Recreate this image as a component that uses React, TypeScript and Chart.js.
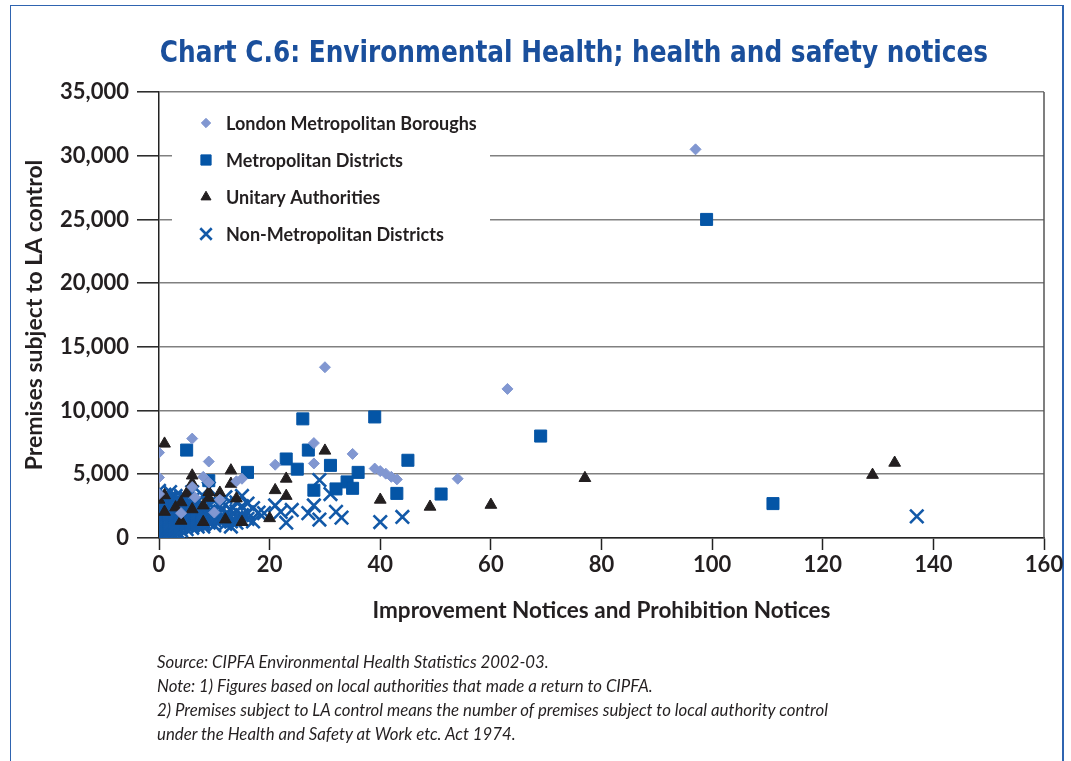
import React, { useEffect, useRef } from 'react';
import { Chart, registerables } from 'chart.js';
import { drawPoint } from 'chart.js/helpers';

Chart.register(...registerables);

// ---------- data ----------
const seriesNames = [
  'London Metropolitan Boroughs',
  'Metropolitan Districts',
  'Unitary Authorities',
  'Non-Metropolitan Districts',
];

const xTicks = [0, 20, 40, 60, 80, 100, 120, 140, 160];
const yTicks = [0, 5000, 10000, 15000, 20000, 25000, 30000, 35000];

const londonPoints: [number, number][] = [
  [97, 30500], [63, 11700], [30, 13400], [54, 4650], [35, 6600], [28, 7450],
  [21, 5750], [28, 5850], [39, 5450], [40, 5250], [41, 5050], [42, 4800], [43, 4600],
  [6, 7800], [0, 6700], [9, 6000], [0, 4750], [8, 4800], [9, 4350], [14, 4450],
  [15, 4650], [0, 3450], [6, 4000], [6.5, 3200], [11, 3000], [10, 2000], [4, 1950],
];

const metroPoints: [number, number][] = [
  [99, 25000], [69, 8000], [111, 2700], [51, 3450], [26, 9350], [39, 9500],
  [45, 6100], [27, 6900], [23, 6200], [25, 5400], [31, 5700], [36, 5150],
  [28, 3750], [32, 3850], [34, 4400], [35, 3900], [43, 3500], [5, 6900],
  [16, 5150], [9, 4500],
];

const unitaryPoints: [number, number][] = [
  [1, 7400], [30, 6850], [6, 4900], [13, 5300], [13, 4250], [6, 4300], [0, 3000],
  [1, 3350], [5, 3500], [9, 3600], [11, 3550], [14, 3100], [1, 2050], [3, 2400],
  [4, 2800], [6, 2250], [8, 2550], [9, 3150], [4, 1350], [8, 1250], [12, 1450],
  [15, 1250], [20, 1550], [23, 4650], [21, 3750], [23, 3300], [40, 3000], [49, 2450],
  [60, 2600], [77, 4700], [129, 4950], [133, 5900],
];

const nonMetroPoints: [number, number][] = [
  [137, 1700], [29, 4550], [31, 3450], [17, 2350], [21, 2550], [22, 2050], [24, 2200],
  [23, 1200], [19, 1950], [27, 1950], [28, 2550], [29, 1450], [32, 2050], [33, 1600],
  [40, 1250], [44, 1650], [18, 2000],
  [0, 200], [0, 350], [0, 500], [0, 650], [0, 900], [0, 1050], [0, 1200], [0, 1350],
  [0, 1500], [0, 1650], [0, 1800], [0, 1950], [0, 2100], [0, 2250], [0, 2400], [0, 2550],
  [0, 2700], [0, 2850], [0, 3000], [0, 3150], [0, 3300], [0, 3700],
  [1, 100], [1, 400], [1, 600], [1, 800], [1, 1000], [1, 1150], [1, 1300], [1, 1450],
  [1, 1600], [1, 1750], [1, 1900], [1, 2050], [1, 2200], [1, 2400], [1, 2600], [1, 2750],
  [1, 2900], [1, 3100], [1, 3400],
  [2, 300], [2, 550], [2, 800], [2, 950], [2, 1100], [2, 1250], [2, 1400], [2, 1550],
  [2, 1700], [2, 1850], [2, 2000], [2, 2150], [2, 2300], [2, 2550], [2, 2800], [2, 3000],
  [2, 3200], [2, 3600],
  [3, 100], [3, 400], [3, 700], [3, 850], [3, 1000], [3, 1250], [3, 1400], [3, 1550],
  [3, 1700], [3, 1850], [3, 2000], [3, 2150], [3, 2300], [3, 2500], [3, 2700], [3, 3000], [3, 3300],
  [4, 200], [4, 600], [4, 900], [4, 1050], [4, 1200], [4, 1350], [4, 1500], [4, 1650],
  [4, 1800], [4, 1950], [4, 2100], [4, 2350], [4, 2600], [4, 2900], [4, 3300],
  [5, 700], [5, 1000], [5, 1150], [5, 1300], [5, 1450], [5, 1600], [5, 1750], [5, 1900],
  [5, 2100], [5, 2300], [5, 2500], [5, 2700], [5, 3100],
  [6, 800], [6, 1000], [6, 1150], [6, 1300], [6, 1450], [6, 1600], [6, 1750], [6, 1900],
  [6, 2050], [6, 2300], [6, 2500], [6, 3000], [6, 3600],
  [7, 900], [7, 1100], [7, 1250], [7, 1400], [7, 1550], [7, 1700], [7, 1850], [7, 2000],
  [7, 2200], [7, 2400], [7, 2900],
  [8, 900], [8, 1100], [8, 1300], [8, 1450], [8, 1600], [8, 1750], [8, 1900], [8, 2050],
  [8, 2200], [8, 2600], [8, 3300],
  [9, 1200], [9, 1500], [9, 1800], [9, 2100], [9, 2700], [9, 3900],
  [10, 1000], [10, 1400], [10, 1700], [10, 2300], [10, 2900],
  [11, 1300], [11, 1600], [11, 2000], [11, 2500],
  [12, 1100], [12, 1500], [12, 1900], [12, 2600], [12, 3200],
  [13, 900], [13, 1300], [13, 1700], [13, 2200],
  [14, 1200], [14, 1600], [14, 2100], [14, 2800],
  [15, 1400], [15, 1800], [15, 2500], [15, 3300],
  [16, 1500], [16, 2000], [16, 2700],
  [17, 1300],
];

// ---------- styles ----------
const LONDON_COLOR = '#8197d1';
const METRO_COLOR = '#0455a6';
const UNITARY_COLOR = '#231f20';
const NONMETRO_COLOR = '#1259a8';
const TEXT_COLOR = '#231f20';
const FONT = 'Lato, "Open Sans", sans-serif';

const markerStyles = [
  { pointStyle: 'rectRot', radius: 5.5, color: LONDON_COLOR, borderWidth: 1, fill: true },
  { pointStyle: 'rect', radius: 8.5, color: METRO_COLOR, borderWidth: 1, fill: true },
  { pointStyle: 'triangle', radius: 6.8, color: UNITARY_COLOR, borderWidth: 1, fill: true },
  { pointStyle: 'crossRot', radius: 9.5, color: NONMETRO_COLOR, borderWidth: 2.6, fill: false },
];

const toXY = (pts: [number, number][]) => pts.map(([x, y]) => ({ x, y }));

const legendPlugin = {
  id: 'boxLegend',
  afterDatasetsDraw(chart: any) {
    const { ctx } = chart;
    ctx.save();
    ctx.fillStyle = '#ffffff';
    ctx.fillRect(172, 97, 318, 156);
    seriesNames.forEach((name, i) => {
      const y = 123 + i * 37;
      const m = markerStyles[i];
      ctx.fillStyle = m.color;
      ctx.strokeStyle = m.color;
      ctx.lineWidth = m.borderWidth;
      drawPoint(ctx, { pointStyle: m.pointStyle as any, radius: m.radius * 0.85, rotation: 0, borderWidth: m.borderWidth }, 206, y);
      ctx.fillStyle = TEXT_COLOR;
      ctx.font = `bold 18px ${FONT}`;
      ctx.textBaseline = 'middle';
      ctx.textAlign = 'left';
      ctx.fillText(name, 226, y + 1);
    });
    ctx.restore();
  },
};

const framePlugin = {
  id: 'plotFrame',
  afterDraw(chart: any) {
    const { ctx, chartArea } = chart;
    ctx.save();
    ctx.strokeStyle = '#555555';
    ctx.lineWidth = 1.5;
    ctx.beginPath();
    ctx.moveTo(chartArea.right, chartArea.top);
    ctx.lineTo(chartArea.right, chartArea.bottom);
    ctx.stroke();
    ctx.restore();
  },
};

export default function App() {
  const canvasRef = useRef<HTMLCanvasElement | null>(null);

  useEffect(() => {
    const canvas = canvasRef.current;
    if (!canvas) return;
    const datasets = [londonPoints, metroPoints, unitaryPoints, nonMetroPoints].map((pts, i) => {
      const m = markerStyles[i];
      return {
        label: seriesNames[i],
        data: toXY(pts),
        pointStyle: m.pointStyle,
        pointRadius: m.radius,
        pointHoverRadius: m.radius,
        backgroundColor: m.fill ? m.color : 'transparent',
        borderColor: m.color,
        pointBorderWidth: m.borderWidth,
        borderWidth: m.borderWidth,
        showLine: false,
      };
    });

    const chart = new Chart(canvas, {
      type: 'scatter',
      data: { datasets: datasets as any },
      plugins: [legendPlugin, framePlugin],
      options: {
        animation: false,
        responsive: false,
        devicePixelRatio: 1,
        layout: { padding: { left: 21.2, top: 92, right: 27, bottom: 136.5 } },
        plugins: {
          legend: { display: false },
          tooltip: { enabled: false },
          title: { display: false },
        },
        scales: {
          x: {
            type: 'linear',
            min: 0,
            max: 160,
            afterBuildTicks: (s: any) => { s.ticks = xTicks.map((v) => ({ value: v })); },
            afterFit: (s: any) => { s.height = 86.5; },
            grid: {
              drawOnChartArea: false,
              drawTicks: true,
              tickLength: 12,
              tickColor: '#222222',
              tickWidth: 1.5,
            },
            border: { display: true, color: '#222222', width: 1.5 },
            ticks: {
              padding: 2,
              color: TEXT_COLOR,
              font: { family: FONT, weight: 'bold', size: 22 },
              callback: (v: any) => String(v),
            },
            title: {
              display: true,
              text: 'Improvement Notices and Prohibition Notices',
              color: TEXT_COLOR,
              font: { family: FONT, weight: 'bold', size: 22.5 },
              padding: { top: 0, bottom: 0 },
            },
          },
          y: {
            type: 'linear',
            min: 0,
            max: 35000,
            afterBuildTicks: (s: any) => { s.ticks = yTicks.map((v) => ({ value: v })); },
            afterFit: (s: any) => { s.width = 137.8; },
            grid: {
              color: '#808080',
              lineWidth: 1.6,
              drawTicks: true,
              tickLength: 22,
              tickColor: '#222222',
              tickWidth: 1.5,
            },
            border: { display: true, color: '#222222', width: 1.5 },
            ticks: {
              padding: 8,
              color: TEXT_COLOR,
              font: { family: FONT, weight: 'bold', size: 22 },
              callback: (v: any) => Number(v).toLocaleString('en-US'),
            },
            title: {
              display: true,
              text: 'Premises subject to LA control',
              color: TEXT_COLOR,
              font: { family: FONT, weight: 'bold', size: 23 },
              padding: { top: 0, bottom: 0 },
            },
          },
        },
      },
    } as any);

    return () => chart.destroy();
  }, []);

  return (
    <div style={{ position: 'relative', width: 1071, height: 761, overflow: 'hidden', background: '#ffffff' }}>
      <style>{'body{margin:0}'}</style>
      <div
        style={{
          position: 'absolute', left: 10, top: 5, width: 1054, height: 800,
          borderLeft: '1.5px solid #2f64b0', borderTop: '1.5px solid #2f64b0',
          borderRight: '2px solid #2f64b0', boxSizing: 'border-box',
        }}
      />
      <canvas
        ref={canvasRef}
        width={1071}
        height={761}
        style={{ position: 'absolute', left: 0, top: 0, width: 1071, height: 761 }}
      />
      <div
        style={{
          position: 'absolute', left: 0, top: 36, width: 1148, textAlign: 'center',
          fontFamily: '"Liberation Sans Narrow", "DejaVu Sans Condensed", sans-serif',
          fontWeight: 'bold', fontSize: 31, lineHeight: '31px', color: '#1a4f9c', whiteSpace: 'nowrap',
          transform: 'scaleX(0.89)', transformOrigin: '50% 50%',
        }}
      >
        Chart C.6: Environmental Health; health and safety notices
      </div>
      <div
        style={{
          position: 'absolute', left: 157, top: 650, fontFamily: FONT, fontStyle: 'italic',
          fontSize: 16.8, lineHeight: '24px', color: TEXT_COLOR, whiteSpace: 'nowrap',
        }}
      >
        <div>Source: CIPFA Environmental Health Statistics 2002-03.</div>
        <div>Note: 1) Figures based on local authorities that made a return to CIPFA.</div>
        <div>2) Premises subject to LA control means the number of premises subject to local authority control</div>
        <div>under the Health and Safety at Work etc. Act 1974.</div>
      </div>
    </div>
  );
}
